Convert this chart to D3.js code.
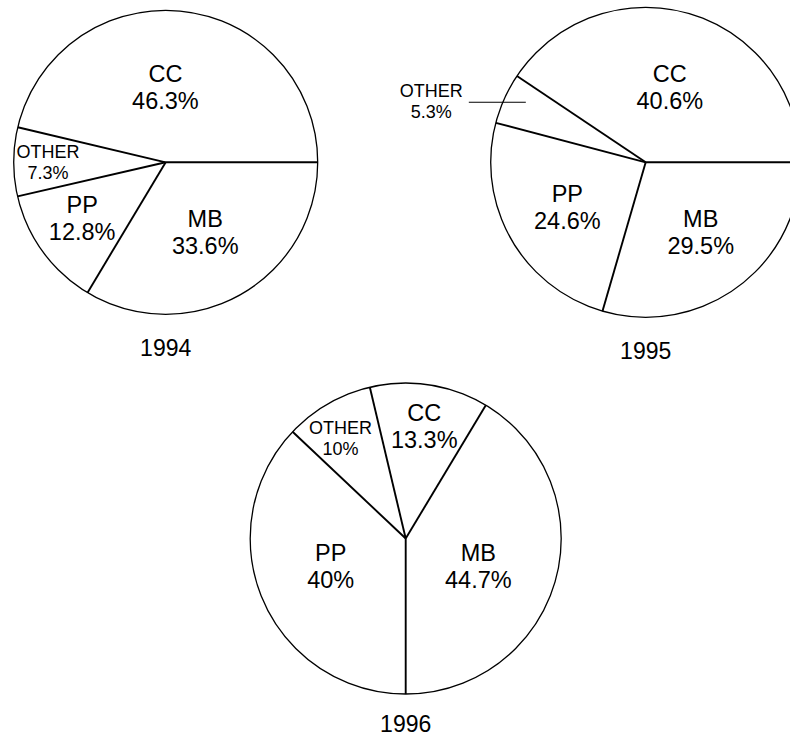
<!DOCTYPE html>
<html>
<head>
<meta charset="utf-8">
<script src="https://cdn.jsdelivr.net/npm/d3@7"></script>
<style>
  html, body { margin: 0; padding: 0; background: #fff; }
  svg { display: block; }
  text { font-family: "Liberation Sans", Arial, Helvetica, sans-serif; fill: #000; }
</style>
</head>
<body>
<svg id="chart" width="790" height="738"></svg>
<script>
// Market share by segment, one pie per year
const years = ["1994", "1995", "1996"];
const categories = ["MB", "PP", "OTHER", "CC"];
const share1994 = [33.6, 12.8, 7.3, 46.3];
const share1995 = [29.5, 24.6, 5.3, 40.6];
const share1996 = [44.7, 40, 10, 13.3];
const shares = [share1994, share1995, share1996];

const W = 790, H = 738;

// Pie placement: centre, radius, and which slice begins at which clock angle (degrees)
const pieLayout = [
  { cx: 165.7, cy: 162.3, r: 152,   anchorSlice: "MB", anchorDeg: 90 },
  { cx: 645.7, cy: 162.3, r: 155,   anchorSlice: "MB", anchorDeg: 90 },
  { cx: 405.7, cy: 538.5, r: 155.5, anchorSlice: "PP", anchorDeg: 180 }
];

// Label placement per slice (order follows categories): radius fraction and angle nudge (deg)
const labelRadius = [
  [0.528, 0.66, 0.774, 0.497],
  [0.573, 0.581, 0.865, 0.512],
  [0.50, 0.514, 0.768, 0.736]
];
const labelShift = [
  [0, 2.4, 0, -6.9],
  [-1.4, 0, 2.3, 0.8],
  [5.4, 3, -3.1, 0.5]
];
// Slices whose label sits outside with a horizontal leader line
const callouts = [{}, { OTHER: { length: 57, gap: 37.5 } }, {}];

const bigFont = 23.5, smallFont = 18, yearFont = 23;
const yearGap = 41.5;
const toRad = Math.PI / 180;

const svg = d3.select("#chart");
svg.append("rect").attr("width", W).attr("height", H).attr("fill", "#fff");

years.forEach((year, i) => {
  const L = pieLayout[i];
  const vals = shares[i];
  const total = d3.sum(vals);
  const ai = categories.indexOf(L.anchorSlice);
  const before = d3.sum(vals.slice(0, ai)) / total * 2 * Math.PI;
  const start = L.anchorDeg * toRad - before;

  const pie = d3.pie().sort(null).value(d => d.value)
    .startAngle(start).endAngle(start + 2 * Math.PI);
  const arcs = pie(categories.map((c, k) => ({ cat: c, value: vals[k] })));
  const arc = d3.arc().innerRadius(0).outerRadius(L.r);

  const g = svg.append("g").attr("transform", `translate(${L.cx},${L.cy})`);

  g.selectAll("path.slice").data(arcs).join("path")
    .attr("class", "slice")
    .attr("d", arc)
    .attr("fill", "#fff")
    .attr("stroke", "none");

  g.append("circle").attr("r", L.r)
    .attr("fill", "none").attr("stroke", "#000").attr("stroke-width", 1.3);

  // slice boundaries
  g.selectAll("line.edge").data(arcs).join("line")
    .attr("class", "edge")
    .attr("x1", 0).attr("y1", 0)
    .attr("x2", d => d3.pointRadial(d.startAngle, L.r)[0])
    .attr("y2", d => d3.pointRadial(d.startAngle, L.r)[1])
    .attr("stroke", "#000").attr("stroke-width", 1.9);

  arcs.forEach((d, k) => {
    const mid = (d.startAngle + d.endAngle) / 2 + labelShift[i][k] * toRad;
    let [ax, ay] = d3.pointRadial(mid, L.r * labelRadius[i][k]);
    const small = d.data.cat === "OTHER";
    const fs = small ? smallFont : bigFont;
    const co = callouts[i][d.data.cat];
    if (co) {
      g.append("line")
        .attr("x1", ax).attr("y1", ay)
        .attr("x2", ax - co.length).attr("y2", ay)
        .attr("stroke", "#000").attr("stroke-width", 1.1);
      ax = ax - co.length - co.gap;
      ay = ay - 1.5;
    }
    const b1 = small ? ay - 4 : ay - 5;
    const b2 = small ? ay + 17 : ay + 22;
    g.append("text").attr("x", ax).attr("y", b1)
      .attr("text-anchor", "middle").attr("font-size", fs)
      .text(d.data.cat);
    g.append("text").attr("x", ax).attr("y", b2)
      .attr("text-anchor", "middle").attr("font-size", fs)
      .text(d.data.value + "%");
  });

  // year caption under each pie, kept inside the drawing area
  const yearY = Math.min(L.r + yearGap, H - L.cy - 6);
  g.append("text").attr("x", 0).attr("y", yearY)
    .attr("text-anchor", "middle").attr("font-size", yearFont)
    .text(year);
});
</script>
</body>
</html>
